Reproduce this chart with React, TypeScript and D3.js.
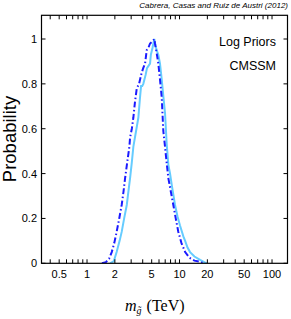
import React from "react";
import * as d3 from "d3";

// gluino mass posterior, CMSSM with log priors
const solidMass = [1.78, 1.95, 2.09, 2.25, 2.37, 2.52, 2.69, 2.8, 2.92, 3.05, 3.17, 3.39, 3.59, 3.74, 3.84, 3.95, 4.06, 4.3, 4.45, 4.62, 4.8, 4.9, 5.1, 5.34, 5.5, 5.67, 5.9, 6.15, 6.42, 6.7, 6.97, 7.27, 7.57, 7.9, 8.24, 8.94, 9.5, 10.1, 11.0, 11.5, 12.2, 13.0, 14.5, 16.7, 18.5, 19.7];
const solidProb = [0, 0.01, 0.05, 0.1, 0.14, 0.2, 0.26, 0.32, 0.38, 0.45, 0.52, 0.59, 0.65, 0.74, 0.79, 0.79, 0.8, 0.84, 0.87, 0.88, 0.89, 0.93, 0.96, 1.0, 0.97, 0.95, 0.93, 0.89, 0.82, 0.74, 0.67, 0.53, 0.44, 0.4, 0.35, 0.26, 0.21, 0.17, 0.12, 0.1, 0.07, 0.05, 0.03, 0.015, 0.005, 0];

const dashMass = [1.45, 1.6, 1.73, 1.85, 1.97, 2.09, 2.23, 2.37, 2.48, 2.58, 2.72, 2.87, 2.92, 3.05, 3.17, 3.3, 3.45, 3.65, 3.9, 4.05, 4.24, 4.42, 4.6, 4.8, 5.13, 5.34, 5.43, 5.65, 5.9, 6.15, 6.42, 6.68, 6.97, 7.25, 7.57, 8.05, 8.57, 9.1, 9.71, 10.5, 11.5, 12.8, 14.5, 16.7, 18.1];
const dashProb = [0, 0.005, 0.02, 0.05, 0.09, 0.14, 0.2, 0.26, 0.32, 0.38, 0.45, 0.52, 0.56, 0.6, 0.65, 0.72, 0.78, 0.8, 0.85, 0.87, 0.89, 0.95, 0.96, 0.98, 0.99, 1.0, 0.98, 0.94, 0.89, 0.82, 0.74, 0.59, 0.52, 0.45, 0.38, 0.32, 0.26, 0.2, 0.14, 0.09, 0.05, 0.025, 0.012, 0.007, 0];

const xTickLabels = [0.5, 1, 2, 5, 10, 20, 50, 100];
const yTicks = [0, 0.2, 0.4, 0.6, 0.8, 1];

const W = 291;
const H = 319;
const margin = { top: 15.3, right: 3.5, bottom: 55.7, left: 41.5 };

export default function App() {
  const innerW = W - margin.left - margin.right;
  const innerH = H - margin.top - margin.bottom;

  const x = d3.scaleLog().domain([0.322, 147]).range([0, innerW]);
  const y = d3.scaleLinear().domain([0, 1.1057]).range([innerH, 0]);

  const line = d3
    .line<[number, number]>()
    .x((d) => x(d[0]))
    .y((d) => y(d[1]));

  const solid = solidMass.map((m, i) => [m, solidProb[i]] as [number, number]);
  const dashed = dashMass.map((m, i) => [m, dashProb[i]] as [number, number]);

  // all decade ticks inside the domain
  const xTicks = x.ticks();
  const sans = "Liberation Sans, Arial, sans-serif";

  return (
    <svg width={W} height={H} style={{ position: "absolute", left: 0, top: 0 }}>
      <rect width={W} height={H} fill="#fff" />
      <text x={288} y={8} textAnchor="end" fontFamily={sans} fontStyle="italic" fontSize={8}>
        Cabrera, Casas and Ruiz de Austri (2012)
      </text>
      <g transform={`translate(${margin.left},${margin.top})`}>
        <defs>
          <clipPath id="plotClip">
            <rect width={innerW} height={innerH} />
          </clipPath>
        </defs>
        <g clipPath="url(#plotClip)">
          <path d={line(solid) ?? ""} fill="none" stroke="#66ccff" strokeWidth={2} />
          <path
            d={line(dashed) ?? ""}
            fill="none"
            stroke="#1a1aff"
            strokeWidth={2}
            strokeDasharray="6,2.5,1.5,2.5"
          />
        </g>

        {/* ticks, inward on all sides */}
        {xTicks.map((t, i) => (
          <g key={"xt" + i}>
            <line x1={x(t)} x2={x(t)} y1={innerH} y2={innerH - 4} stroke="#000" strokeWidth={1} />
            <line x1={x(t)} x2={x(t)} y1={0} y2={4} stroke="#000" strokeWidth={1} />
          </g>
        ))}
        {xTickLabels.map((t) => (
          <text key={"xl" + t} x={x(t)} y={innerH + 15.2} textAnchor="middle" fontFamily={sans} fontSize={11}>
            {t}
          </text>
        ))}
        {yTicks.map((t) => (
          <g key={"yt" + t}>
            <line x1={0} x2={4} y1={y(t)} y2={y(t)} stroke="#000" strokeWidth={1} />
            <line x1={innerW} x2={innerW - 4} y1={y(t)} y2={y(t)} stroke="#000" strokeWidth={1} />
            <text x={-4.5} y={y(t) + 4} textAnchor="end" fontFamily={sans} fontSize={11}>
              {t}
            </text>
          </g>
        ))}
        <rect width={innerW} height={innerH} fill="none" stroke="#000" strokeWidth={1.2} />

        <text x={234.5} y={30.7} textAnchor="end" fontFamily={sans} fontSize={12.5}>
          Log Priors
        </text>
        <text x={234.5} y={55} textAnchor="end" fontFamily={sans} fontSize={12.5}>
          CMSSM
        </text>
      </g>

      <text
        transform="translate(16,139) rotate(-90)"
        textAnchor="middle"
        fontFamily={sans}
        fontSize={18.5}
      >
        Probability
      </text>

      <text x={125} y={311} fontFamily="Liberation Serif, Times New Roman, serif" fontSize={16}>
        <tspan fontStyle="italic">m</tspan>
        <tspan fontStyle="italic" fontSize={10} dy={3}>g̃</tspan>
        <tspan dy={-3} dx={5}>(TeV)</tspan>
      </text>
    </svg>
  );
}
